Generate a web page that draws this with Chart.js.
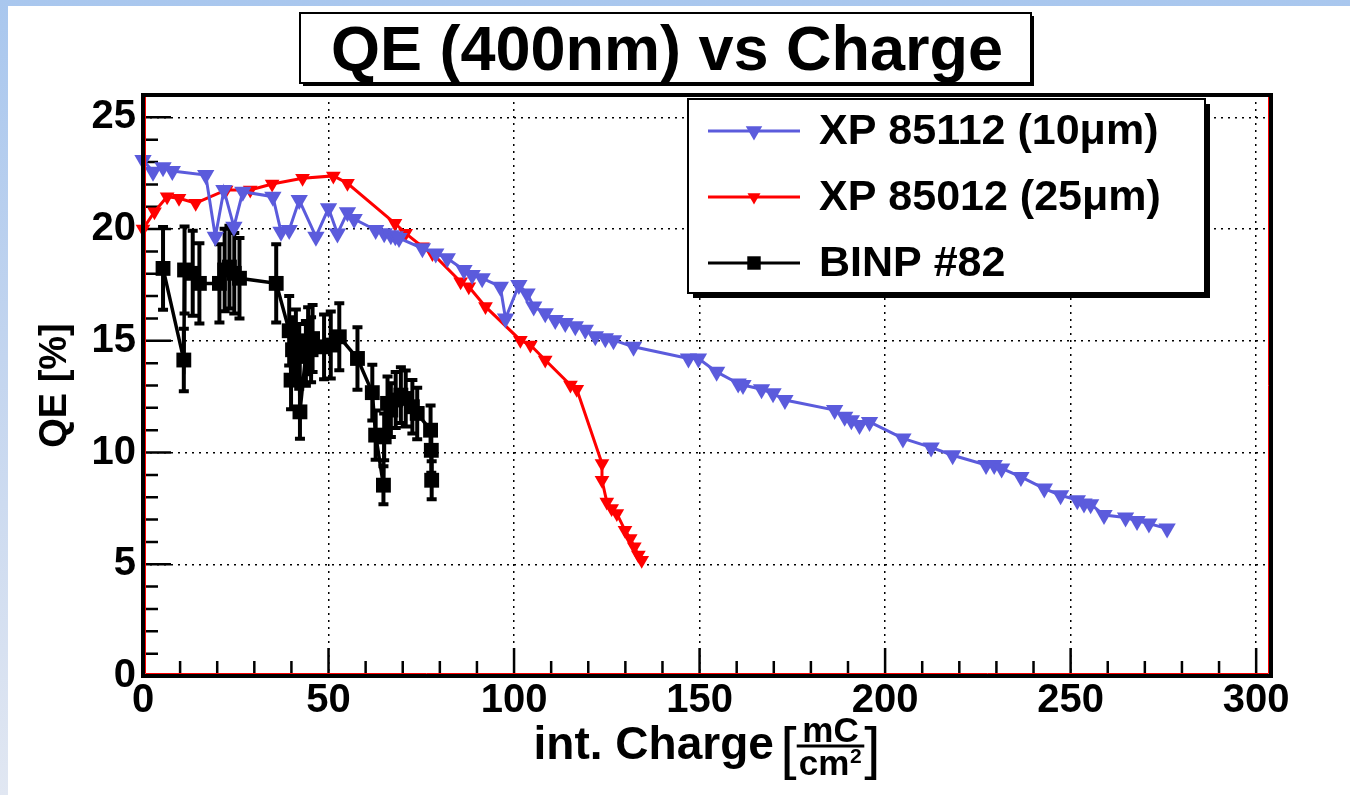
<!DOCTYPE html>
<html>
<head>
<meta charset="utf-8">
<script src="https://cdn.jsdelivr.net/npm/chart.js"></script>
<style>
html, body { margin: 0; padding: 0; }
body {
  width: 1350px; height: 795px; overflow: hidden; position: relative;
  background: linear-gradient(to bottom, #a9c7ee 0%, #c3d5ef 45%, #e1e7f2 100%);
}
#page { position: absolute; left: 8px; top: 6px; right: 0; bottom: 0; background: #fff; }
#wrap { position: absolute; left: 0; top: 0; width: 1350px; height: 795px; }
</style>
</head>
<body>
<div id="page"></div>
<div id="wrap"><canvas id="qeChart" width="1350" height="795"></canvas></div>
<script>
var FONT = '"Liberation Sans", Arial, Helvetica, sans-serif';

var chartTitle = 'QE (400nm) vs Charge';
var yTitle = 'QE [%]';
var seriesNames = ['XP 85112 (10\u03bcm)', 'XP 85012 (25\u03bcm)', 'BINP #82'];
var chargeTicks = [0, 50, 100, 150, 200, 250, 300];
var qeTicks = [0, 5, 10, 15, 20, 25];

// XP 85112 (10um)
var xp85112Charge = [0, 2.7, 5.4, 7.9, 16.9, 19.5, 21.8, 24.5, 26.9, 35.0, 37.2, 39.4, 42.1, 46.6, 50.0,
  52.4, 55.1, 56.9, 62.7, 65.0, 66.8, 68.0, 69.0, 75.3, 78.9, 82.0, 86.5, 88.7, 91.4, 96.3, 97.7,
  101.3, 103.5, 105.3, 108.4, 111.1, 113.8, 116.5, 119.2, 121.9, 124.6, 126.8, 132.2, 147.0, 149.7,
  154.6, 160.4, 161.7, 166.7, 169.8, 173.0, 186.4, 189.1, 190.9, 193.1, 195.8, 204.8, 212.4, 218.2,
  227.2, 229.4, 231.4, 236.6, 242.9, 247.3, 251.8, 253.6, 255.4, 259.0, 264.8, 267.9, 271.1, 276.0];
var xp85112QE = [23.09, 22.57, 22.77, 22.6, 22.42, 19.66, 21.75, 20.1, 21.67, 21.45, 19.88, 19.96, 21.3, 19.66, 20.93,
  19.8, 20.75, 20.45, 19.96, 19.81, 19.72, 19.68, 19.6, 19.14, 18.91, 18.69, 18.17, 17.94, 17.8, 17.42, 16.0,
  17.5, 17.12, 16.53, 16.23, 15.93, 15.8, 15.65, 15.5, 15.2, 15.12, 15.03, 14.73, 14.21, 14.21,
  13.61, 13.09, 13.02, 12.83, 12.65, 12.35, 11.9, 11.6, 11.45, 11.23, 11.37, 10.63, 10.23, 9.88,
  9.44, 9.44, 9.29, 8.91, 8.39, 8.09, 7.87, 7.72, 7.69, 7.2, 7.09, 6.94, 6.82, 6.6];

// XP 85012 (25um)
var xp85012Charge = [0, 3.1, 6.5, 9.7, 14.2, 22.4, 28.9, 34.8, 43.0, 51.3, 55.1, 67.9, 70.8, 75.3, 78.0,
  85.6, 87.8, 92.3, 101.7, 104.4, 108.4, 115.2, 116.9, 123.7, 123.7, 125.0, 126.3, 127.7, 129.9, 131.3,
  132.4, 133.5, 134.4];
var xp85012QE = [20.0, 20.78, 21.45, 21.38, 21.16, 21.75, 21.75, 22.02, 22.27, 22.38, 22.05, 20.26, 19.81, 19.21, 18.91,
  17.64, 17.42, 16.53, 15.03, 14.81, 14.14, 13.02, 12.83, 9.51, 8.76, 7.79, 7.5, 7.27, 6.52, 6.15,
  5.78, 5.41, 5.18];

// BINP #82, with errors
var binpCharge = [5.4, 11.0, 11.2, 13.4, 15.2, 20.6, 22.0, 23.3, 24.6, 26.0, 35.9, 39.4, 39.9, 40.3, 41.2,
  42.1, 42.3, 43.9, 44.5, 45.3, 45.7, 48.8, 50.6, 52.9, 57.8, 61.8, 62.7, 64.8, 65.0, 65.9, 66.8, 68.1,
  69.5, 70.8, 72.6, 73.9, 77.5, 77.7, 77.8];
var binpQE = [18.24, 14.14, 18.17, 18.02, 17.57, 17.57, 18.17, 18.3, 18.02, 17.8, 17.57, 15.45, 13.24, 14.6, 14.9,
  14.3, 11.82, 14.44, 15.0, 14.6, 15.1, 14.73, 14.81, 15.18, 14.21, 12.68, 10.78, 8.54, 10.7, 12.2, 11.9, 12.35,
  12.57, 12.42, 12.05, 11.75, 11.0, 10.1, 8.76];
var binpErr = [1.85, 1.4, 1.95, 1.9, 1.8, 1.75, 1.85, 1.85, 1.8, 1.8, 1.75, 1.55, 1.3, 1.45, 1.5,
  1.45, 1.2, 1.45, 1.5, 1.45, 1.5, 1.45, 1.5, 1.5, 1.4, 1.25, 1.1, 0.85, 1.05, 1.2, 1.2, 1.25,
  1.25, 1.25, 1.2, 1.15, 1.1, 1.0, 0.85];

function toPoints(xs, ys) {
  return xs.map(function(x, i) { return {x: x, y: ys[i]}; });
}

function marker(ctx, style, x, y, r, color) {
  ctx.fillStyle = color;
  ctx.beginPath();
  if (style === 'rect') {
    var s = Math.SQRT1_2 * r;
    ctx.rect(x - s, y - s, 2 * s, 2 * s);
  } else {
    var w = Math.sin(Math.PI / 3) * r;
    ctx.moveTo(x, y + r);
    ctx.lineTo(x - w, y - r / 2);
    ctx.lineTo(x + w, y - r / 2);
    ctx.closePath();
  }
  ctx.fill();
}

// error bars for the BINP set
var errorBars = {
  id: 'errorBars',
  beforeDatasetDraw: function(chart, args) {
    if (args.index !== 2) return;
    var ctx = chart.ctx, ys = chart.scales.y;
    var meta = chart.getDatasetMeta(2);
    ctx.save();
    ctx.strokeStyle = '#000';
    ctx.lineWidth = 4;
    ctx.beginPath();
    meta.data.forEach(function(pt, i) {
      var top = ys.getPixelForValue(binpQE[i] + binpErr[i]);
      var bot = ys.getPixelForValue(binpQE[i] - binpErr[i]);
      ctx.moveTo(pt.x, top); ctx.lineTo(pt.x, bot);
      ctx.moveTo(pt.x - 5, top); ctx.lineTo(pt.x + 5, top);
      ctx.moveTo(pt.x - 5, bot); ctx.lineTo(pt.x + 5, bot);
    });
    ctx.stroke();
    ctx.restore();
  }
};

// ROOT style inside ticks
var insideTicks = {
  id: 'insideTicks',
  beforeDatasetsDraw: function(chart) {
    var ctx = chart.ctx, a = chart.chartArea;
    var xs = chart.scales.x, ys = chart.scales.y;
    ctx.save();
    ctx.strokeStyle = '#000';
    ctx.lineWidth = 2.5;
    ctx.beginPath();
    for (var v = 0; v <= ys.max; v += 1) {
      var py = ys.getPixelForValue(v);
      ctx.moveTo(a.left, py); ctx.lineTo(a.left + (v % 5 === 0 ? 28 : 15), py);
    }
    for (var u = 0; u <= xs.max; u += 10) {
      var px = xs.getPixelForValue(u);
      ctx.moveTo(px, a.bottom); ctx.lineTo(px, a.bottom - (u % 50 === 0 ? 28 : 15));
    }
    ctx.stroke();
    ctx.restore();
  }
};

var decorations = {
  id: 'decorations',
  afterDraw: function(chart) {
    var ctx = chart.ctx, a = chart.chartArea;
    ctx.save();
    // frame
    ctx.strokeStyle = '#ff0000';
    ctx.lineWidth = 1;
    ctx.beginPath();
    ctx.moveTo(a.left + 2.5, a.top + 2); ctx.lineTo(a.left + 2.5, a.bottom - 2.5);
    ctx.lineTo(a.right - 2.5, a.bottom - 2.5); ctx.lineTo(a.right - 2.5, a.top + 2);
    ctx.stroke();
    ctx.strokeStyle = '#000';
    ctx.lineWidth = 4;
    ctx.strokeRect(a.left, a.top, a.right - a.left, a.bottom - a.top);

    // title box
    ctx.fillStyle = '#000';
    ctx.fillRect(303, 16, 731, 70);
    ctx.fillStyle = '#fff';
    ctx.fillRect(300, 13, 731, 70);
    ctx.lineWidth = 2;
    ctx.strokeRect(300, 13, 731, 70);
    ctx.fillStyle = '#000';
    ctx.font = 'bold 63px ' + FONT;
    ctx.textAlign = 'center';
    ctx.textBaseline = 'alphabetic';
    ctx.fillText(chartTitle, 667, 70);

    // legend box
    ctx.fillStyle = '#000';
    ctx.fillRect(693, 104, 517, 194);
    ctx.fillStyle = '#fff';
    ctx.fillRect(688, 99, 517, 194);
    ctx.lineWidth = 2;
    ctx.strokeRect(688, 99, 517, 194);
    var rows = [131, 197, 263];
    var sizes = [9.5, 7.5, 9.5];
    chart.data.datasets.forEach(function(ds, i) {
      var y = rows[i];
      ctx.strokeStyle = ds.borderColor;
      ctx.lineWidth = 3;
      ctx.beginPath();
      ctx.moveTo(708, y); ctx.lineTo(800, y);
      ctx.stroke();
      marker(ctx, ds.pointStyle, 754, y, sizes[i], ds.borderColor);
      ctx.fillStyle = '#000';
      ctx.font = 'bold 43px ' + FONT;
      ctx.textAlign = 'left';
      ctx.textBaseline = 'middle';
      ctx.fillText(ds.label, 819, y + 1);
    });

    // x axis title with fraction
    var cx = (a.left + a.right) / 2;
    ctx.textBaseline = 'alphabetic';
    ctx.textAlign = 'left';
    ctx.font = 'bold 46px ' + FONT;
    var main = 'int. Charge ';
    var wMain = ctx.measureText(main).width - 6;
    ctx.font = '58px ' + FONT;
    var wB = ctx.measureText('[').width;
    ctx.font = 'bold 35px ' + FONT;
    var wNum = ctx.measureText('mC').width;
    var wDen = ctx.measureText('cm').width + 13;
    var wFrac = Math.max(wNum, wDen) + 4;
    var x0 = cx - (wMain + 2 * wB + wFrac) / 2;
    ctx.font = 'bold 46px ' + FONT;
    ctx.fillText(main, x0, 759);
    ctx.font = '58px ' + FONT;
    ctx.fillText('[', x0 + wMain, 768);
    ctx.fillText(']', x0 + wMain + wB + wFrac, 768);
    var fx = x0 + wMain + wB;
    ctx.font = 'bold 35px ' + FONT;
    ctx.textAlign = 'center';
    ctx.fillText('mC', fx + wFrac / 2, 742);
    ctx.fillText('cm', fx + wFrac / 2 - 6.5, 775);
    ctx.font = 'bold 21px ' + FONT;
    ctx.fillText('2', fx + wFrac / 2 + (wDen - 13) / 2, 763);
    ctx.strokeStyle = '#000';
    ctx.lineWidth = 3;
    ctx.beginPath();
    ctx.moveTo(fx, 746); ctx.lineTo(fx + wFrac, 746);
    ctx.stroke();
    ctx.restore();
  }
};

Chart.defaults.font.family = FONT;
Chart.defaults.color = '#000';

var ctx = document.getElementById('qeChart').getContext('2d');
var qeChart = new Chart(ctx, {
  type: 'scatter',
  data: {
    datasets: [
      {
        label: seriesNames[0],
        data: toPoints(xp85112Charge, xp85112QE),
        showLine: true,
        borderColor: '#5b5bdc',
        backgroundColor: '#5b5bdc',
        borderWidth: 3,
        pointStyle: 'triangle',
        pointRotation: 180,
        pointRadius: 10,
        pointBorderWidth: 0,
        clip: false
      },
      {
        label: seriesNames[1],
        data: toPoints(xp85012Charge, xp85012QE),
        showLine: true,
        borderColor: '#ff0000',
        backgroundColor: '#ff0000',
        borderWidth: 3,
        pointStyle: 'triangle',
        pointRotation: 180,
        pointRadius: 8.5,
        pointBorderWidth: 0,
        clip: false
      },
      {
        label: seriesNames[2],
        data: toPoints(binpCharge, binpQE),
        showLine: true,
        borderColor: '#000000',
        backgroundColor: '#000000',
        borderWidth: 3.5,
        pointStyle: 'rect',
        pointRadius: 10.5,
        pointBorderWidth: 0,
        clip: false
      }
    ]
  },
  options: {
    responsive: false,
    animation: false,
    events: [],
    layout: { padding: { top: 95, right: 79, left: 0, bottom: 0 } },
    plugins: {
      legend: { display: false },
      title: { display: false },
      tooltip: { enabled: false }
    },
    scales: {
      x: {
        type: 'linear',
        min: 0,
        max: 304,
        afterBuildTicks: function(scale) {
          scale.ticks = chargeTicks.map(function(v) { return {value: v}; });
        },
        afterFit: function(scale) { scale.height = 119; },
        ticks: { font: { size: 40, weight: 'bold' }, padding: 1, maxRotation: 0 },
        grid: { color: '#000', lineWidth: 1.5, drawTicks: false },
        border: { display: false, dash: [2, 5] }
      },
      y: {
        type: 'linear',
        min: 0,
        max: 26,
        afterBuildTicks: function(scale) {
          scale.ticks = qeTicks.map(function(v) { return {value: v}; });
        },
        afterFit: function(scale) { scale.width = 143; },
        ticks: { font: { size: 40, weight: 'bold' }, padding: 7 },
        grid: { color: '#000', lineWidth: 1.5, drawTicks: false },
        border: { display: false, dash: [2, 5] },
        title: {
          display: true,
          text: yTitle,
          font: { size: 38, weight: 'bold' },
          padding: { top: 33, bottom: 0 }
        }
      }
    }
  },
  plugins: [errorBars, insideTicks, decorations]
});
</script>
</body>
</html>
